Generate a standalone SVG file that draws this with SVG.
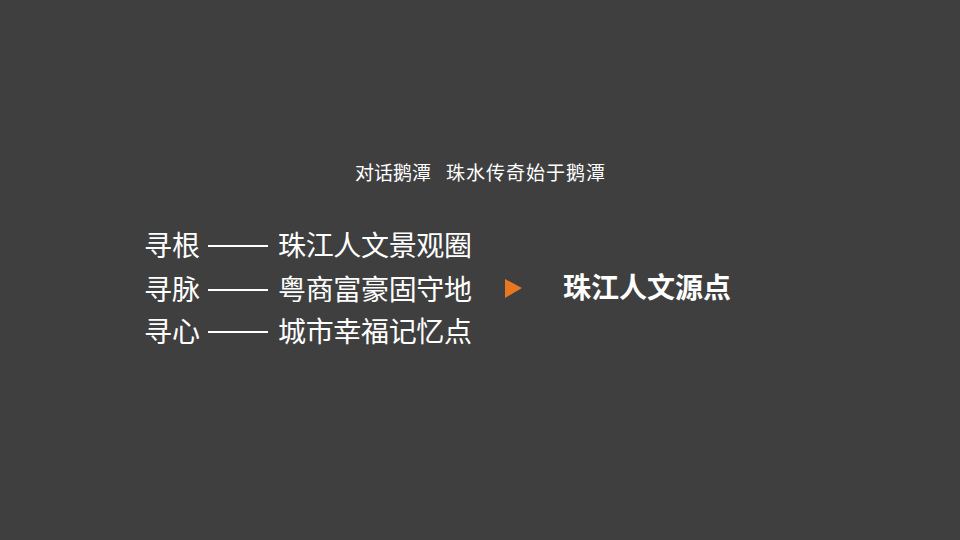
<svg xmlns="http://www.w3.org/2000/svg" width="960" height="540" viewBox="0 0 960 540">
<style>
text{font-family:"Noto Sans CJK SC","Noto Sans",sans-serif;fill:#fff}
.l{font-size:28px}
.d{stroke:#fff;stroke-width:2}
</style>
<rect width="960" height="540" fill="#3f3f3f"/>
<g id="title"><text x="355" y="180" font-size="19">对话鹅潭</text><text x="446" y="180" font-size="19" textLength="159">珠水传奇始于鹅潭</text></g>
<g id="list">
<text class="l" x="144" y="256">寻根</text><line class="d" x1="208" y1="246" x2="268" y2="246"/><text class="l" x="278" y="256" textLength="194">珠江人文景观圈</text>
<text class="l" x="144" y="300">寻脉</text><line class="d" x1="208" y1="290" x2="268" y2="290"/><text class="l" x="278" y="300" textLength="194">粤商富豪固守地</text>
<text class="l" x="144" y="342">寻心</text><line class="d" x1="208" y1="332" x2="268" y2="332"/><text class="l" x="278" y="342" textLength="194">城市幸福记忆点</text>
</g>
<g id="connectors"><polygon points="505,279 522,288 505,298" fill="#e87722"/></g>
<g id="result"><text x="563" y="298" font-size="28" font-weight="bold">珠江人文源点</text></g>
</svg>
